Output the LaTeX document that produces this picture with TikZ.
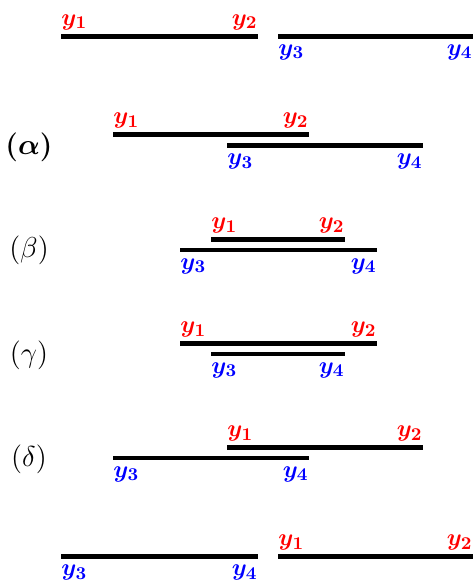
\documentclass[tikz,border=0pt]{standalone}
\usepackage{bm}
\usetikzlibrary{positioning}
\begin{document}
\begin{tikzpicture}[x=0.5pt, y=-0.5pt, line cap=butt,
    seg/.style={line width=2.3pt, black},
    lab/.style={inner sep=0pt, font=\fontsize{12.6}{15}\selectfont},
    redl/.style={lab, text=red},
    bluel/.style={lab, text=blue},
    caselab/.style={inner sep=0pt, font=\fontsize{13.6}{16}\selectfont}]
  \useasboundingbox (0,0) rectangle (473,581);

  % 1. 不相交 (左红右蓝)
  \coordinate (r0a) at (61,36.3);  \coordinate (r0b) at (258,36.3);
  \coordinate (b0a) at (278,36.3); \coordinate (b0b) at (473,36.3);
  \draw[seg] (r0a) -- (r0b);
  \draw[seg] (b0a) -- (b0b);
  \node[redl, above right=3pt and 0pt of r0a] (y10) {$\bm{y_1}$};
  \node[redl, above left=3pt and 0pt of r0b] (y20) {$\bm{y_2}$};
  \node[bluel, below right=4pt and 0pt of b0a] (y30) {$\bm{y_3}$};
  \node[bluel, below left=4pt and 0pt of b0b] (y40) {$\bm{y_4}$};

  % 2. (alpha)
  \node[caselab] (lalpha) at (29,147) {$\bm{(\alpha)}$};
  \coordinate (r1a) at (113,134.7); \coordinate (r1b) at (309,134.7);
  \coordinate (b1a) at (227,145.7); \coordinate (b1b) at (423,145.7);
  \draw[seg] (r1a) -- (r1b);
  \draw[seg] (b1a) -- (b1b);
  \node[redl, above right=3pt and 0pt of r1a] (y11) {$\bm{y_1}$};
  \node[redl, above left=3pt and 0pt of r1b] (y21) {$\bm{y_2}$};
  \node[bluel, below right=4pt and 0pt of b1a] (y31) {$\bm{y_3}$};
  \node[bluel, below left=4pt and 0pt of b1b] (y41) {$\bm{y_4}$};

  % 3. (beta)
  \node[caselab] (lbeta) at (29,250) {$(\beta)$};
  \coordinate (r2a) at (211,239.7); \coordinate (r2b) at (345,239.7);
  \coordinate (b2a) at (180,250);   \coordinate (b2b) at (377,250);
  \draw[seg] (r2a) -- (r2b);
  \draw[seg] (b2a) -- (b2b);
  \node[redl, above right=3pt and 0pt of r2a] (y12) {$\bm{y_1}$};
  \node[redl, above left=3pt and 0pt of r2b] (y22) {$\bm{y_2}$};
  \node[bluel, below right=4pt and 0pt of b2a] (y32) {$\bm{y_3}$};
  \node[bluel, below left=4pt and 0pt of b2b] (y42) {$\bm{y_4}$};

  % 4. (gamma)
  \node[caselab] (lgamma) at (29,355) {$(\gamma)$};
  \coordinate (r3a) at (180,343.7); \coordinate (r3b) at (377,343.7);
  \coordinate (b3a) at (211,354);   \coordinate (b3b) at (345,354);
  \draw[seg] (r3a) -- (r3b);
  \draw[seg] (b3a) -- (b3b);
  \node[redl, above right=3pt and 0pt of r3a] (y13) {$\bm{y_1}$};
  \node[redl, above left=3pt and 0pt of r3b] (y23) {$\bm{y_2}$};
  \node[bluel, below right=4pt and 0pt of b3a] (y33) {$\bm{y_3}$};
  \node[bluel, below left=4pt and 0pt of b3b] (y43) {$\bm{y_4}$};

  % 5. (delta)
  \node[caselab] (ldelta) at (29,459) {$(\delta)$};
  \coordinate (r4a) at (227,447.7); \coordinate (r4b) at (423,447.7);
  \coordinate (b4a) at (113,458);   \coordinate (b4b) at (309,458);
  \draw[seg] (r4a) -- (r4b);
  \draw[seg] (b4a) -- (b4b);
  \node[redl, above right=3pt and 0pt of r4a] (y14) {$\bm{y_1}$};
  \node[redl, above left=3pt and 0pt of r4b] (y24) {$\bm{y_2}$};
  \node[bluel, below right=4pt and 0pt of b4a] (y34) {$\bm{y_3}$};
  \node[bluel, below left=4pt and 0pt of b4b] (y44) {$\bm{y_4}$};

  % 6. 不相交 (左蓝右红)
  \coordinate (b5a) at (61,556.7);  \coordinate (b5b) at (258,556.7);
  \coordinate (r5a) at (278,556.7); \coordinate (r5b) at (473,556.7);
  \draw[seg] (b5a) -- (b5b);
  \draw[seg] (r5a) -- (r5b);
  \node[redl, above right=3pt and 0pt of r5a] (y15) {$\bm{y_1}$};
  \node[redl, above left=3pt and 0pt of r5b] (y25) {$\bm{y_2}$};
  \node[bluel, below right=4pt and 0pt of b5a] (y35) {$\bm{y_3}$};
  \node[bluel, below left=4pt and 0pt of b5b] (y45) {$\bm{y_4}$};
\end{tikzpicture}
\end{document}
